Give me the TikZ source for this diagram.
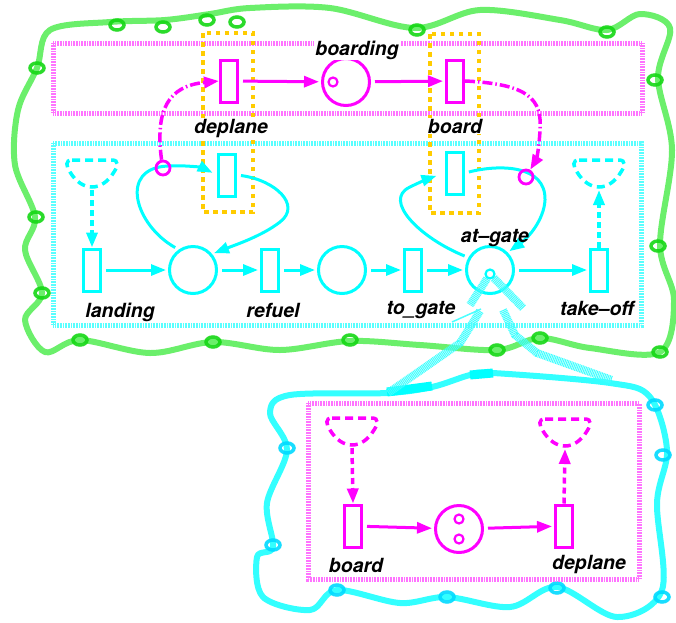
\documentclass[tikz,border=0pt]{standalone}
\usepackage{fontspec}
\setmainfont{TeX Gyre Heros}
\usetikzlibrary{arrows.meta}
\definecolor{netmag}{RGB}{255,0,255}
\definecolor{netcyan}{RGB}{0,255,255}
\definecolor{cloudgreen}{RGB}{70,235,70}
\definecolor{curlgreen}{RGB}{20,215,20}
\definecolor{holdgold}{RGB}{255,204,0}

\begin{document}
\begin{tikzpicture}[x=1pt, y=-1pt,
  trans/.style={draw, rectangle, line width=3pt, minimum width=17pt, minimum height=42pt, inner sep=0pt},
  place/.style={draw, circle, line width=3pt, minimum size=47pt, inner sep=0pt},
  token/.style={draw, circle, line width=2.2pt, minimum size=9pt, inner sep=0pt},
  ring/.style={draw=netmag, circle, line width=2.8pt, minimum size=14pt, inner sep=0pt},
  flow/.style={-{Triangle[length=15pt,width=11pt]}, line width=3pt, shorten >=2pt, shorten <=4pt},
  ext/.style={-{Triangle[length=15pt,width=11pt]}, line width=3.5pt, dash pattern=on 6pt off 4pt},
  sync/.style={-{Triangle[length=15pt,width=11pt]}, line width=3.5pt, netmag, dash pattern=on 10pt off 3pt on 1.5pt off 3pt},
  frame/.style={line width=5pt, dash pattern=on 0.8pt off 0.8pt},
  hold/.style={draw=holdgold, line width=4.5pt, dash pattern=on 4.5pt off 4.5pt},
  cloud/.style={line width=6pt, draw opacity=0.8, line cap=round, line join=round},
  curl/.style={line width=3.5pt, draw opacity=0.9},
  band/.style={line width=8pt, draw=netcyan!75, dash pattern=on 1pt off 0.7pt},
  lbl/.style={font=\fontsize{19.5}{22}\selectfont\bfseries\itshape, anchor=base, inner sep=1pt},
  sink/.pic={\draw[line width=3.5pt, dash pattern=on 8pt off 5pt] (-20,0) -- (20,0) .. controls (27,0) and (26,6) .. (22,12) .. controls (16,22) and (8,27) .. (0,27) .. controls (-8,27) and (-16,22) .. (-22,12) .. controls (-26,6) and (-27,0) .. (-20,0);
    \coordinate (-bot) at (0,30);}
]
\useasboundingbox (0,0) rectangle (676,622);

% rough outlines
\draw[cloud, cloudgreen] plot[smooth cycle, tension=0.55] coordinates {(37,68) (50,30) (110,22) (165,20) (210,14) (250,8) (330,8) (415,28) (480,10) (560,20) (607,30) (640,14) (670,28) (658,78) (672,150) (660,245) (674,300) (660,352) (590,348) (540,338) (497,350) (420,345) (350,341) (280,350) (213,342) (150,353) (80,340) (45,352) (25,320) (42,293) (25,250) (35,217) (15,165) (18,110)};
\foreach \x/\y in {37/68, 117/25, 163/27, 207/20, 237/22, 417/30, 607/32, 655/80, 658/246, 660/352, 540/338, 497/350, 350/340, 213/342, 80/340, 42/293, 36/217}
  \draw[curl, curlgreen] (\x,\y) ellipse [x radius=7, y radius=5];
\draw[cloud, netcyan] plot[smooth cycle, tension=0.55] coordinates {(387,393) (432,387) (470,375) (493,373) (610,383) (650,397) (667,450) (657,503) (662,590) (617,617) (557,587) (510,607) (447,597) (400,603) (337,590) (310,610) (263,597) (257,557) (273,547) (267,503) (287,450) (270,413) (290,395)};
\foreach \x/\y in {655/405, 663/455, 662/597, 557/588, 447/597, 337/590, 273/545, 287/448}
  \draw[curl, netcyan!85!blue] (\x,\y) ellipse [x radius=7, y radius=5];
\draw[netcyan, line width=9pt] (387,392) -- (432,386) (470,375) -- (493,373);

% subnet frames
\draw[frame, netmag!55] (53,43) rectangle (642,113);
\draw[frame, netcyan!65] (53,143) rectangle (641,325);
\draw[frame, netmag!55] (308,403) rectangle (639,579);

% synchronised pairs
\draw[hold] (203,33) rectangle (253,212);
\draw[hold] (430,34) rectangle (479,213);

% upper net
\begin{scope}[netmag]
\node[trans] (dep) at (229,81) {};
\node[place] (brd) at (346,82) {};
\node[token] (brdtok) at (333,82) {};
\node[trans] (bd) at (455,81) {};
\draw[flow] (dep) -- (brd);
\draw[flow] (brd) -- (bd);
\end{scope}

% main net
\begin{scope}[netcyan]
\node[trans] (land) at (92,270) {};
\node[place] (p1) at (193,270) {};
\node[trans] (ref) at (270,270) {};
\node[place] (p2) at (342,270) {};
\node[trans] (tog) at (413,270) {};
\node[place] (gate) at (490,270) {};
\node[token] (gatetok) at (490,274) {};
\node[trans] (tko) at (599,270) {};
\node[trans] (dep2) at (227,175) {};
\node[trans] (bd2) at (455,173) {};
\pic (inL) at (92,160) {sink};
\pic (outR) at (599,160) {sink};
\draw[ext] (inL-bot) -- (land.north);
\draw[ext] (tko.north) -- (outR-bot);
\draw[flow] (land) -- (p1);
\draw[flow] (p1) -- (ref);
\draw[flow] (ref) -- (p2);
\draw[flow] (p2) -- (tog);
\draw[flow] (tog) -- (gate);
\draw[flow] (gate) -- (tko);
\draw[flow, shorten >=5pt] (p1.125) .. controls (135,225) and (118,168) .. (168,166) .. controls (188,165) and (203,168) .. (dep2.west);
\draw[flow] (dep2.east) .. controls (275,180) and (302,205) .. (280,222) .. controls (262,236) and (235,245) .. (p1.40);
\draw[flow, shorten >=9pt] (gate.150) .. controls (420,238) and (382,200) .. (410,187) .. controls (420,182) and (430,178) .. (bd2.west);
\draw[flow] (bd2.east) .. controls (500,164) and (546,165) .. (545,200) .. controls (544,220) and (528,238) .. (gate.45);
\end{scope}
\node[ring] (ringL) at (163,168) {};
\node[ring] (ringR) at (526,177) {};
\draw[sync] (ringL.100) .. controls (155,110) and (168,86) .. (dep.west);
\draw[sync] (bd.east) .. controls (530,84) and (542,100) .. (540,130) .. controls (539,150) and (536,160) .. (ringR.60);

% zoom onto at-gate
\coordinate (cl1) at (388,393);
\coordinate (cl2) at (612,380);
\draw[band] (gatetok) -- (470,305);
\draw[netcyan!70, line width=1.5pt] (481,309) -- (452,322);
\draw[band] (480,311) -- (460,343) -- (cl1);
\draw[band] (gatetok) -- (523,308);
\draw[band] (503,310) -- (515,335) -- (537,353) -- (cl2);

% lower net
\begin{scope}[netmag]
\node[trans] (bd3) at (353,526) {};
\node[place] (p3) at (459,529) {};
\node[token] (tokA) at (459,519) {};
\node[token] (tokB) at (459,539) {};
\node[trans] (dep3) at (564,526) {};
\pic (inB) at (352,418) {sink};
\pic (outB) at (565,419) {sink};
\draw[ext] (inB-bot) -- (bd3.north);
\draw[ext] (dep3.north) -- (outB-bot);
\draw[flow] (bd3) -- (p3);
\draw[flow] (p3) -- (dep3);
\end{scope}

% labels
\node[lbl, fill=white] (l-brd) at (357,55) {boarding};
\node[lbl, fill=white] (l-dep) at (231,133) {deplane};
\node[lbl, fill=white] (l-bd) at (455,133) {board};
\node[lbl] (l-land) at (120,317) {landing};
\node[lbl] (l-ref) at (273,317) {refuel};
\node[lbl] (l-tog) at (421,314) {to\_gate};
\node[lbl] (l-tko) at (597,315) {take--off};
\node[lbl] (l-gate) at (495,242) {at--gate};
\node[lbl] (l-bd3) at (356,572) {board};
\node[lbl] (l-dep3) at (589,569) {deplane};
\end{tikzpicture}
\end{document}
